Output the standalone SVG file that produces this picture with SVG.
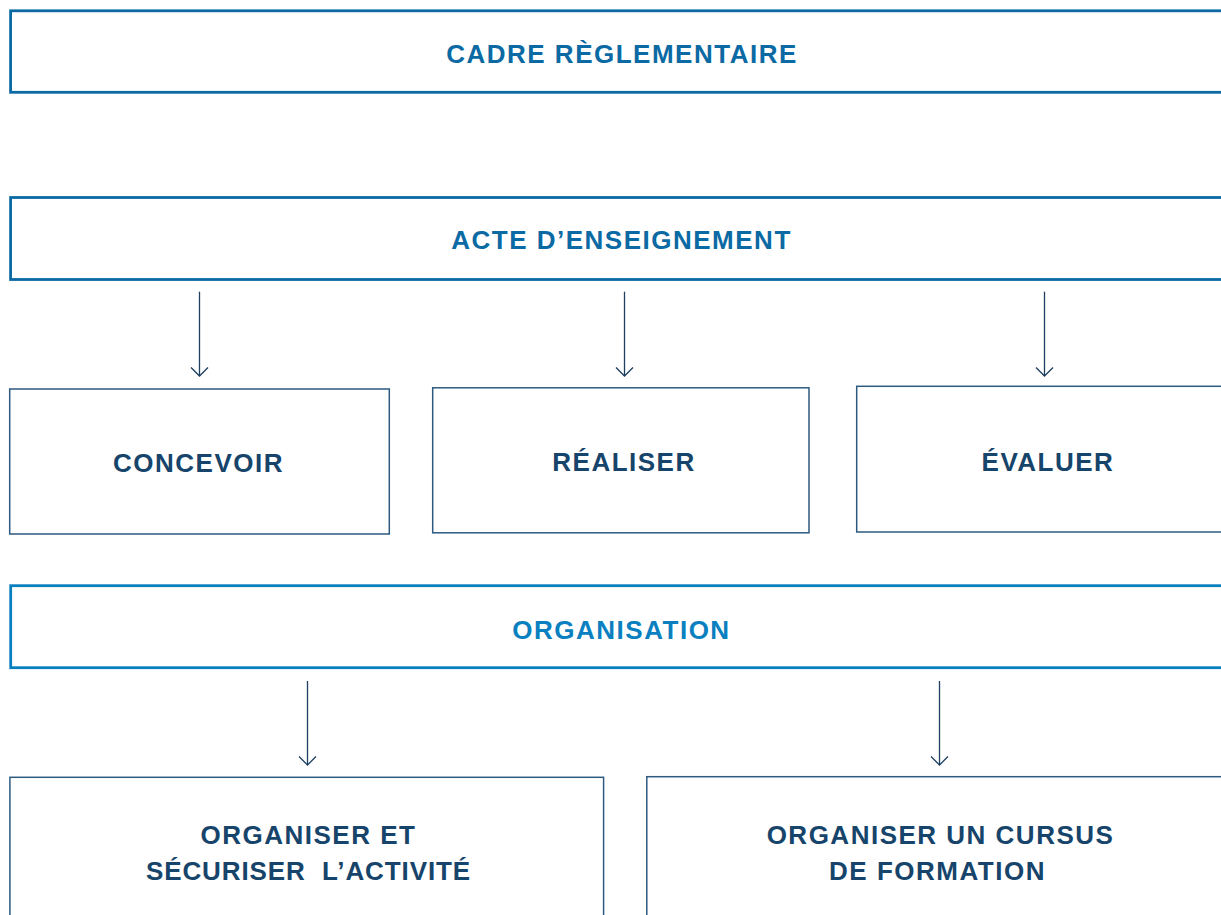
<svg xmlns="http://www.w3.org/2000/svg" width="1221" height="915" viewBox="0 0 1221 915">
<defs>
<style>
.band{fill:#fff;stroke:#0b6aa3;stroke-width:2.8}
.band2{fill:#fff;stroke:#0a7fbf;stroke-width:2.8}
.box{fill:#fff;stroke:#2d5a80;stroke-width:1.5}
text{font-family:"Liberation Sans",Arial,sans-serif;font-weight:bold;font-size:26px;letter-spacing:1.5px;text-anchor:middle}
.t1{fill:#0b6aa3}
.t2{fill:#0a80c0}
.t3{fill:#16446a}
.narrow{letter-spacing:0.9px}
.conn line,.conn polyline{stroke:#1e3f60;stroke-width:1.3;fill:none}
</style>
</defs>
<g id="cadre">
<rect class="band" x="10.6" y="10.8" width="1230" height="81.5"/>
<text class="t1" x="622" y="63">CADRE RÈGLEMENTAIRE</text>
</g>
<g id="acte">
<rect class="band" x="10.6" y="197.5" width="1230" height="82"/>
<text class="t1" x="621.5" y="249">ACTE D’ENSEIGNEMENT</text>
</g>
<g id="concevoir">
<rect class="box" x="9.7" y="389" width="379.6" height="145"/>
<text class="t3" x="198.5" y="472">CONCEVOIR</text>
</g>
<g id="realiser">
<rect class="box" x="432.7" y="387.8" width="376.3" height="145"/>
<text class="t3" x="624" y="471">RÉALISER</text>
</g>
<g id="evaluer">
<rect class="box" x="856.7" y="386.3" width="380" height="145.7"/>
<text class="t3" x="1048" y="470.5">ÉVALUER</text>
</g>
<g id="organisation">
<rect class="band2" x="10.7" y="585.7" width="1230" height="82"/>
<text class="t2" x="621.5" y="639">ORGANISATION</text>
</g>
<g id="organiser-securiser">
<rect class="box" x="9.9" y="777.3" width="593.7" height="160"/>
<text class="t3" x="308.5" y="844">ORGANISER ET</text>
<text class="t3 narrow" x="308.5" y="880" xml:space="preserve">SÉCURISER  L’ACTIVITÉ</text>
</g>
<g id="organiser-cursus">
<rect class="box" x="646.8" y="776.7" width="590" height="160"/>
<text class="t3" x="940.5" y="844">ORGANISER UN CURSUS</text>
<text class="t3" x="937.5" y="880">DE FORMATION</text>
</g>
<g id="connectors" class="conn">
<line x1="199.5" y1="291.7" x2="199.5" y2="376"/>
<polyline points="191,367.5 199.5,376 208,367.5"/>
<line x1="624.5" y1="291.7" x2="624.5" y2="376"/>
<polyline points="616,367.5 624.5,376 633,367.5"/>
<line x1="1044.5" y1="291.7" x2="1044.5" y2="376"/>
<polyline points="1036,367.5 1044.5,376 1053,367.5"/>
<line x1="307.5" y1="681" x2="307.5" y2="765"/>
<polyline points="299,756.5 307.5,765 316,756.5"/>
<line x1="939.5" y1="681" x2="939.5" y2="765"/>
<polyline points="931,756.5 939.5,765 948,756.5"/>
</g>
</svg>
